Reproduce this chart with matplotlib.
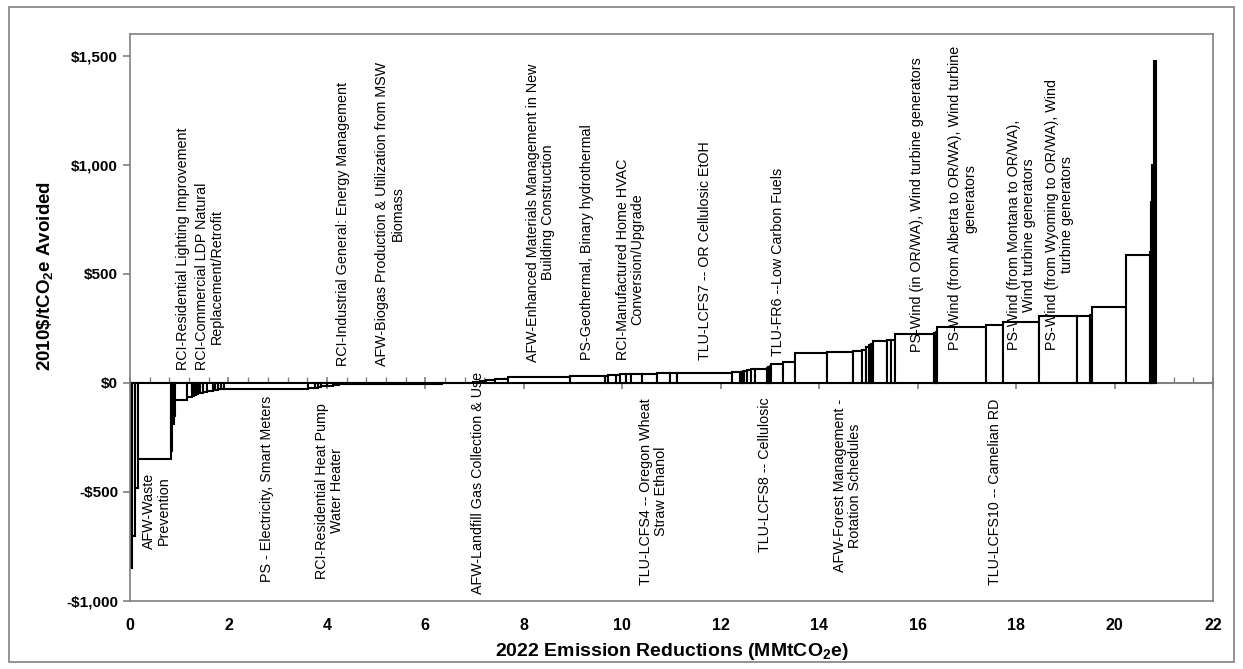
import numpy as np
import matplotlib
matplotlib.use("Agg")
import matplotlib.pyplot as plt
from matplotlib.ticker import FuncFormatter, MultipleLocator
from matplotlib.patches import Rectangle

plt.rcParams['font.family'] = ['Liberation Sans', 'DejaVu Sans']
plt.rcParams['mathtext.fontset'] = 'custom'
plt.rcParams['mathtext.rm'] = 'Liberation Sans'
plt.rcParams['mathtext.bf'] = 'Liberation Sans:bold'

# ---- data: each measure = emission reduction (width, MMtCO2e) and cost (2010$/tCO2e)
reductions = [0.05, 0.05, 0.06, 0.67, 0.03, 0.03, 0.03, 0.24, 0.09, 0.04,
              0.05, 0.04, 0.04, 0.07, 0.07, 0.13, 0.04, 0.06, 0.05, 0.06,
              1.72, 0.14, 0.06, 0.07, 0.11, 0.13, 0.12, 0.15, 1.94, 0.63,
              0.13, 0.14, 0.17, 0.27, 1.26, 0.71, 0.05, 0.18, 0.07, 0.12,
              0.10, 0.24, 0.29, 0.26, 0.16, 1.10, 0.17, 0.03, 0.03, 0.03,
              0.05, 0.08, 0.09, 0.24, 0.03, 0.03, 0.03, 0.24, 0.24, 0.64,
              0.54, 0.17, 0.10, 0.06, 0.04, 0.04, 0.27, 0.08, 0.09, 0.79,
              0.04, 0.03, 0.99, 0.34, 0.74, 0.76, 0.27, 0.05, 0.68, 0.49,
              0.02, 0.03, 0.03, 0.05]
costs = [-850, -700, -480, -347, -310, -190, -150, -80, -63, -60,
         -57, -53, -48, -44, -40, -35, -33, -31, -30, -29,
         -28, -25, -21, -19, -15, -12, -8, -5, -3, 1,
         4, 8, 12, 17, 27, 32, 33, 35, 37, 39,
         40, 41, 43, 45, 46, 47, 48, 50, 52, 54,
         56, 58, 62, 65, 70, 74, 78, 85, 95, 139,
         140, 145, 152, 163, 172, 180, 190, 195, 198, 225,
         228, 232, 255, 266, 281, 306, 309, 312, 350, 585,
         600, 830, 1000, 1474]

upper_labels = [
    "RCI-Residential Lighting Improvement",
    "RCI-Commercial LDP Natural\nReplacement/Retrofit",
    "RCI-Industrial General: Energy Management",
    "AFW-Biogas Production & Utilization from MSW\nBiomass",
    "AFW-Enhanced Materials Management in New\nBuilding Construction",
    "PS-Geothermal, Binary hydrothermal",
    "RCI-Manufactured Home HVAC\nConversion/Upgrade",
    "TLU-LCFS7 -- OR Cellulosic EtOH",
    "TLU-FR6 --Low Carbon Fuels",
    "PS-Wind (in OR/WA), Wind turbine generators",
    "PS-Wind (from Alberta to OR/WA), Wind turbine\ngenerators",
    "PS-Wind (from Montana to OR/WA),\nWind turbine generators",
    "PS-Wind (from Wyoming to OR/WA), Wind\nturbine generators",
]
upper_x = [1.08, 1.62, 4.33, 5.28, 8.34, 9.28, 10.16, 11.68, 13.17, 15.98, 16.91, 18.11, 18.88]
upper_y = [60, 60, 78, 78, 98, 105, 105, 105, 125, 144, 150, 150, 150]

lower_labels = [
    "AFW-Waste\nPrevention",
    "PS - Electricity, Smart Meters",
    "RCI-Residential Heat Pump\nWater Heater",
    "AFW-Landfill Gas Collection & Use",
    "TLU-LCFS4 -- Oregon Wheat\nStraw Ethanol",
    "TLU-LCFS8 -- Cellulosic",
    "AFW-Forest Management -\nRotation Schedules",
    "TLU-LCFS10 -- Camelian RD",
]
lower_x = [0.54, 2.78, 4.06, 7.07, 10.64, 12.90, 14.58, 17.57]
lower_y = [-410, -60, -92, 50, -70, -65, -75, -70]

# ---- figure
fig = plt.figure(figsize=(12.43, 6.69), dpi=100)
ax = fig.add_axes([130/1243, 1-601/669, (1213-130)/1243, (601-34)/669])

lefts = np.concatenate([[0], np.cumsum(reductions)[:-1]])
ax.bar(lefts, costs, width=reductions, align='edge', color='white',
       edgecolor='black', linewidth=1.5, zorder=2)

ax.set_xlim(0, 22)
ax.set_ylim(-1000, 1600)

gray = '#808080'
for s in ax.spines.values():
    s.set_color(gray)
    s.set_linewidth(1.2)

ax.yaxis.set_major_locator(MultipleLocator(500))
ax.yaxis.set_major_formatter(FuncFormatter(
    lambda v, p: ('-' if v < 0 else '') + '${:,.0f}'.format(abs(v))))
ax.tick_params(axis='y', direction='out', length=5, color=gray, width=1.2,
               labelsize=11)
for lab in ax.get_yticklabels():
    lab.set_fontweight('bold')

ax.xaxis.set_major_locator(MultipleLocator(2))
ax.tick_params(axis='x', length=0, pad=12)
for lab in ax.get_xticklabels():
    lab.set_fontweight('bold')
    lab.set_fontsize(11.5)

# zero axis with tick marks
sec = ax.secondary_xaxis(1000/2600)
sec.spines['bottom'].set_color(gray)
sec.spines['bottom'].set_linewidth(1.5)
sec.xaxis.set_major_locator(MultipleLocator(2))
sec.xaxis.set_minor_locator(MultipleLocator(0.4))
sec.tick_params(axis='x', which='major', direction='inout', length=9,
                color=gray, width=1.2, labelbottom=False)
sec.tick_params(axis='x', which='minor', direction='in', length=4,
                color=gray, width=1.0)

ax.set_xlabel(r"2022 Emission Reductions (MMtCO$_\mathbf{2}$e)",
              fontweight='bold', fontsize=14, labelpad=6)
ax.set_ylabel(r"2010\$/tCO$_\mathbf{2}$e Avoided", fontweight='bold', fontsize=13.5)
ax.yaxis.set_label_coords(-0.068, 0.573)

for t, x, y in zip(upper_labels, upper_x, upper_y):
    ax.text(x, y, t, rotation=90, ha='center', va='bottom', multialignment='center',
            fontsize=10.3, zorder=3, linespacing=1.1)
for t, x, y in zip(lower_labels, lower_x, lower_y):
    ax.text(x, y, t, rotation=90, ha='center', va='top', multialignment='center',
            fontsize=10.3, zorder=3, linespacing=1.1)

fig.patches.append(Rectangle((9/1243, 7/669), 1225/1243, 655/669,
                             transform=fig.transFigure, fill=False,
                             edgecolor=gray, linewidth=1.2))

fig.savefig("out.png", dpi=100)
